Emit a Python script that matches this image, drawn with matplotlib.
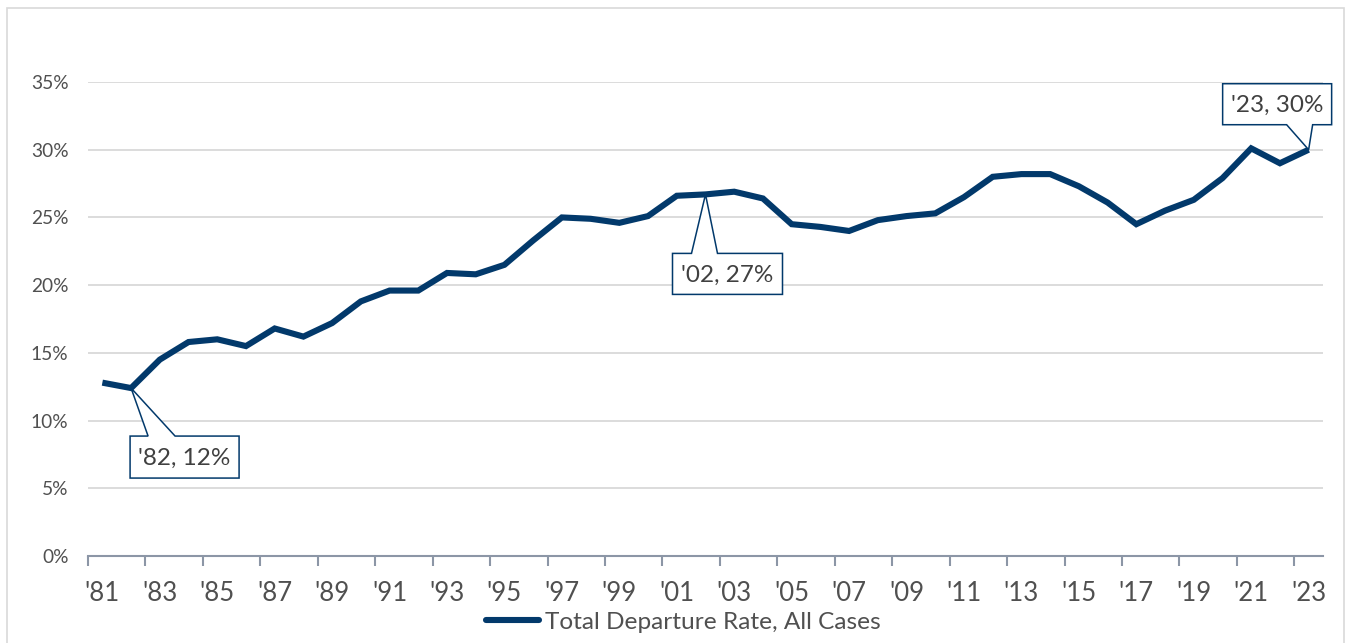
import matplotlib
matplotlib.use("Agg")
import matplotlib.pyplot as plt
from matplotlib.patches import Polygon, Rectangle
from matplotlib.transforms import IdentityTransform
from matplotlib.lines import Line2D

plt.rcParams['font.family'] = ['Lato', 'DejaVu Sans']

# ---- data ----
years = list(range(1981, 2024))
rates = [12.8, 12.4, 14.5, 15.8, 16.0, 15.5, 16.8, 16.2, 17.2, 18.8,
         19.6, 19.6, 20.9, 20.8, 21.5, 23.3, 25.0, 24.9, 24.6, 25.1,
         26.6, 26.7, 26.9, 26.4, 24.5, 24.3, 24.0, 24.8, 25.1, 25.3,
         26.5, 28.0, 28.2, 28.2, 27.3, 26.1, 24.5, 25.5, 26.3, 27.9,
         30.1, 29.0, 30.0]
series_name = "Total Departure Rate, All Cases"
y_ticks = [0, 5, 10, 15, 20, 25, 30, 35]
callout_years = [1982, 2002, 2023]
callout_texts = ["'82, 12%", "'02, 27%", "'23, 30%"]

NAVY = '#02396B'
GRID = '#D9D9D9'
TXT = '#505050'

W, H = 1351, 643
fig = plt.figure(figsize=(W / 100, H / 100), dpi=100)
ax = fig.add_axes([88 / W, 87 / H, (1323 - 88) / W, (556 - 82) / H])

xs = list(range(len(years)))
ax.plot(xs, rates, color=NAVY, lw=4.4, solid_joinstyle='miter', solid_capstyle='butt', zorder=3)

ax.set_xlim(-0.5, len(years) - 0.5)
ax.set_ylim(0, 35)
ax.set_yticks(y_ticks)
ax.set_yticklabels([f"{t}%" for t in y_ticks])
ax.yaxis.grid(True, color=GRID, lw=1.3)
ax.set_axisbelow(True)
ax.tick_params(axis='y', length=0, pad=14, labelsize=13.8, labelcolor=TXT)

# labels centered on categories (every other year), tick marks between categories
label_pos = xs[::2]
ax.set_xticks(label_pos)
ax.set_xticklabels([f"'{str(years[i])[2:]}" for i in label_pos])
ax.tick_params(axis='x', which='major', length=0, pad=18, labelsize=18.5, labelcolor=TXT)
ax.set_xticks([p - 0.5 for p in label_pos], minor=True)
ax.tick_params(axis='x', which='minor', length=7, width=1.5, color='#8C96A6', direction='out')

for s in ['top', 'right', 'left']:
    ax.spines[s].set_visible(False)
ax.spines['bottom'].set_color('#8C96A6')
ax.spines['bottom'].set_linewidth(1.5)

# legend
handle = Line2D([], [], color=NAVY, lw=4.4, solid_capstyle='round')
fig.legend([handle], [series_name], loc='center', bbox_to_anchor=(683 / W, 21 / H),
           frameon=False, handlelength=2.2, handletextpad=0.22, fontsize=17.6,
           labelcolor=TXT)

# outer chart border
fig.add_artist(Rectangle((6.5, -20), 1337, 635.5 + 20, transform=IdentityTransform(),
                         fill=False, ec=GRID, lw=1.2))

# callouts: box (left, right, top, bottom) rel. to point in px (y up), pointer side and base
shapes = [
    dict(L=-1, R=108, T=-48, B=-90, side='top', b1=17, b2=44),
    dict(L=-33, R=77, T=-59, B=-100, side='top', b1=-14, b2=12),
    dict(L=-86, R=23, T=66, B=25, side='bottom', b1=-22, b2=4),
]
fig.canvas.draw()
for yr, txt, sh in zip(callout_years, callout_texts, shapes):
    i = years.index(yr)
    px, py = ax.transData.transform((i, rates[i]))
    L, R, T, B = px + sh['L'], px + sh['R'], py + sh['T'], py + sh['B']
    if sh['side'] == 'top':
        pts = [(L, T), (px + sh['b1'], T), (px, py), (px + sh['b2'], T), (R, T), (R, B), (L, B)]
    else:
        pts = [(L, T), (R, T), (R, B), (px + sh['b2'], B), (px, py), (px + sh['b1'], B), (L, B)]
    fig.add_artist(Polygon(pts, closed=True, transform=IdentityTransform(),
                           fc='white', ec=NAVY, lw=1.1, zorder=5))
    fig.text((L + R) / 2, (T + B) / 2 - 1, txt, transform=IdentityTransform(),
             ha='center', va='center', fontsize=17.5, color='#404040', zorder=6)

fig.savefig('out.png', dpi=100)
